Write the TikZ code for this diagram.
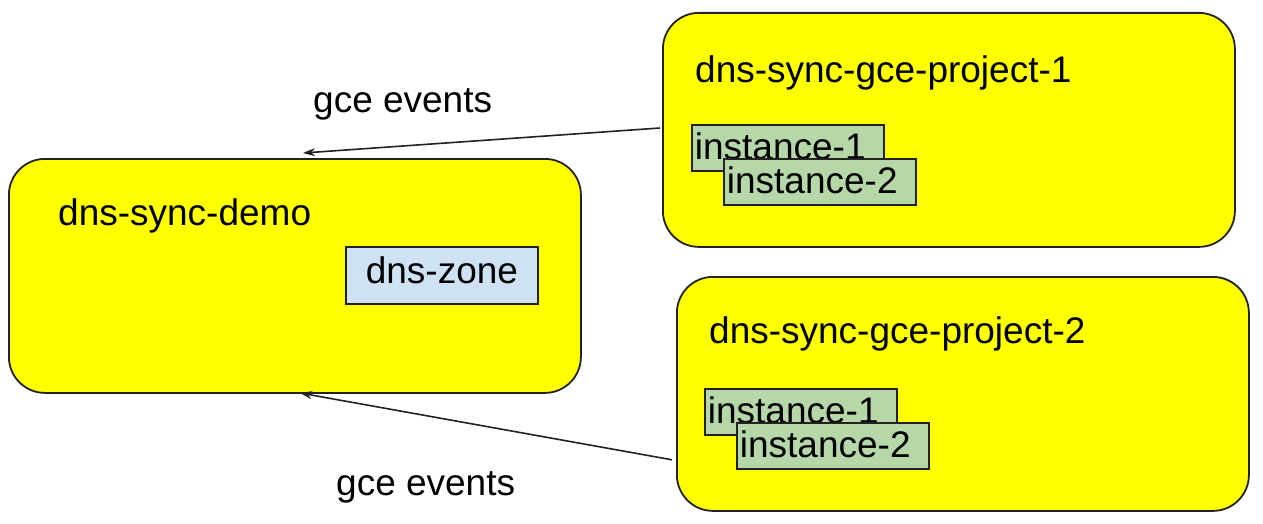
\documentclass[tikz,border=0pt]{standalone}
\usepackage{fontspec}
\setmainfont{Liberation Sans}
\usetikzlibrary{arrows.meta,calc}
\definecolor{boxyellow}{HTML}{FFFF00}
\definecolor{instgreen}{HTML}{B6D7A8}
\definecolor{zoneblue}{HTML}{CFE2F3}
\definecolor{edgegray}{HTML}{222222}
\begin{document}
\begin{tikzpicture}[x=1pt,y=-1pt,
  bigbox/.style={draw=edgegray,line width=1.8pt,fill=boxyellow,rounded corners=36pt,
    minimum width=572pt,minimum height=234pt,anchor=north west,inner sep=0pt},
  instbox/.style={draw=edgegray,line width=1.8pt,fill=instgreen,anchor=north west,
    minimum width=192pt,minimum height=46pt,text width=186pt,inner xsep=3pt,inner ysep=0pt,align=left,
    text depth=4pt,font=\fontsize{37}{44}\selectfont},
  zonebox/.style={draw=edgegray,line width=1.8pt,fill=zoneblue,anchor=north west,
    minimum width=192pt,minimum height=57pt,inner sep=0pt,text depth=11pt,font=\fontsize{37}{44}\selectfont},
  lbl/.style={font=\fontsize{37}{44}\selectfont,inner sep=0pt},
  evarrow/.style={draw=edgegray,line width=1.6pt,-{Stealth[length=12pt,width=8pt]}}]
\useasboundingbox (0,0) rectangle (1263,524);
\fill[white] (0,0) rectangle (1263,524);
% boxes
\node[bigbox] (demo) at (8,158) {};
\node[bigbox] (p1) at (662,12) {};
\node[bigbox] (p2) at (676,276) {};
% titles
\node[lbl,anchor=base west] (demot) at (58,225) {dns-sync-demo};
\node[lbl,anchor=base west] (p1t) at (695,83) {dns-sync-gce-project-1};
\node[lbl,anchor=base west] (p2t) at (709,343) {dns-sync-gce-project-2};
% inner boxes
\node[zonebox] (zone) at (345,246) {dns-zone};
\node[instbox] (i11) at (691,124) {instance-1};
\node[instbox] (i12) at (723,158) {instance-2};
\node[instbox] (i21) at (704,388) {instance-1};
\node[instbox] (i22) at (736,422) {instance-2};
% arrows
\coordinate (a1end) at (303,153);
\coordinate (a2end) at (300,393);
\draw[evarrow] ($(p1.north west)+(-2,116)$) -- (a1end);
\draw[evarrow] ($(p2.south west)+(-4,-52)$) -- (a2end);
% labels
\node[lbl,anchor=base west] (ev1) at (313,113) {gce events};
\node[lbl,anchor=base west] (ev2) at (336,495) {gce events};
\end{tikzpicture}
\end{document}
